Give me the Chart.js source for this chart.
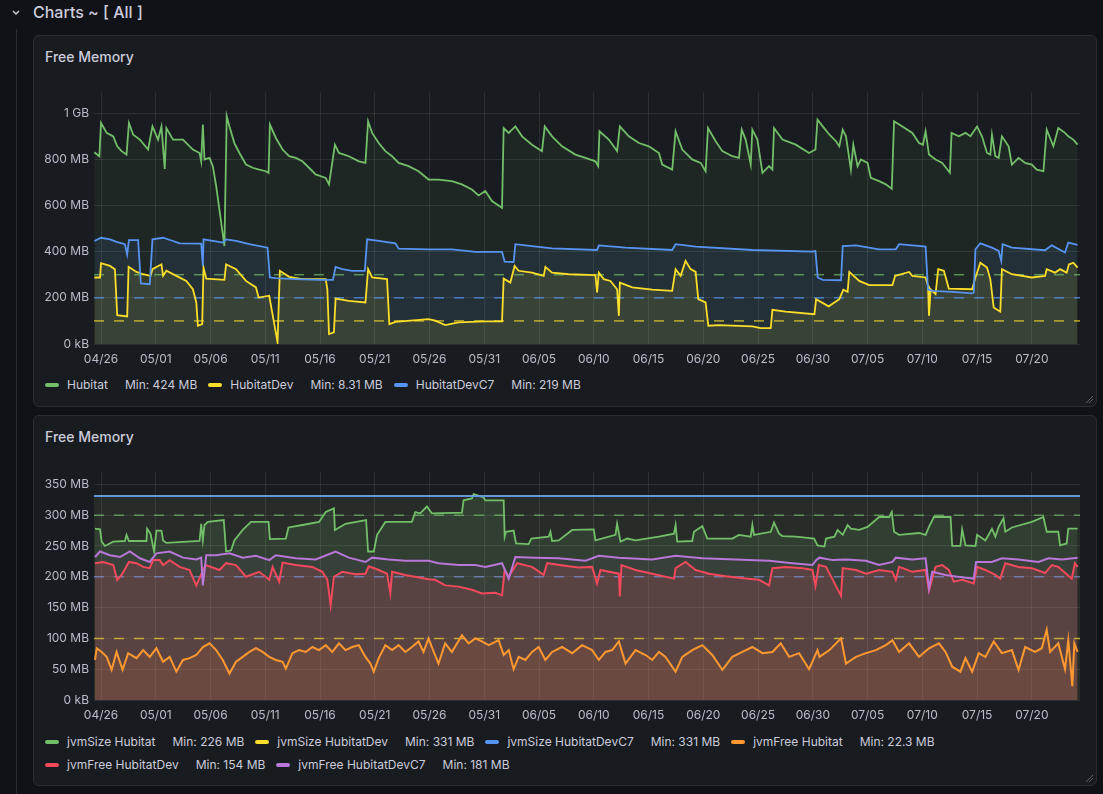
<!DOCTYPE html>
<html>
<head>
<meta charset="utf-8">
<title>Free Memory</title>
<script src="https://cdn.jsdelivr.net/npm/chart.js@4.4.1/dist/chart.umd.min.js"></script>
<style>
  body { margin: 0; width: 1103px; height: 794px; overflow: hidden; background: #111217; font-family: Inter, "Noto Sans", sans-serif; color: #ccccdc; position: relative; }
  .row-title { position: absolute; left: 33px; top: 1px; font-size: 16px; line-height: 22px; font-weight: 500; }
  .chev { position: absolute; left: 10px; top: 7px; }
  .rail { position: absolute; left: 16px; top: 29px; width: 1px; bottom: 0; background: #2a2c32; }
  .panel { position: absolute; left: 33px; width: 1064px; background: #181b1f; border: 1px solid #2b2d33; border-radius: 6px; box-sizing: border-box; }
  .panel h2 { position: absolute; left: 11px; margin: 0; font-size: 14px; line-height: 20px; font-weight: 500; color: #ccccdc; }
  .grip { position: absolute; right: 2px; bottom: 2px; }
  canvas { position: absolute; }
  .legend { position: absolute; width: 1040px; display: flex; flex-wrap: wrap; row-gap: 8px; font-size: 12px; line-height: 15px; }
  .item { display: flex; align-items: center; margin-right: 11px; white-space: nowrap; }
  .sw { width: 14px; height: 4px; border-radius: 2px; margin-right: 8px; }
  .min { margin-left: 17px; }
</style>
</head>
<body>
<svg class="chev" width="12" height="12"><polyline points="3,4 6,7 9,4" fill="none" stroke="#ccccdc" stroke-width="1.5"/></svg>
<div class="row-title">Charts ~ [ All ]</div>
<div class="rail"></div>

<div class="panel" style="top:35px;height:372px">
  <h2 style="top:11px">Free Memory</h2>
  <svg class="grip" width="10" height="10"><path d="M9,2 L2,9 M9,5 L5,9" stroke="#5a5d66" stroke-width="1"/></svg>
</div>
<div class="panel" style="top:415px;height:371px">
  <h2 style="top:11px">Free Memory</h2>
  <svg class="grip" width="10" height="10"><path d="M9,2 L2,9 M9,5 L5,9" stroke="#5a5d66" stroke-width="1"/></svg>
</div>

<canvas id="chart1" width="1045" height="280" style="left:40px;top:88px"></canvas>
<canvas id="chart2" width="1045" height="256" style="left:40px;top:468px"></canvas>
<div class="legend" id="legend1" style="left:45px;top:377px"></div>
<div class="legend" id="legend2" style="left:45px;top:734px"></div>

<script>
// x values are days after 04/26, y values are MB
const xMin = -0.64;
const xMax = 89.4;
const xTickDays = [0, 5, 10, 15, 20, 25, 30, 35, 40, 45, 50, 55, 60, 65, 70, 75, 80, 85];
const xTickLabels = ['04/26', '05/01', '05/06', '05/11', '05/16', '05/21', '05/26', '05/31', '06/05', '06/10', '06/15', '06/20', '06/25', '06/30', '07/05', '07/10', '07/15', '07/20'];

const yTicks1 = [0, 200, 400, 600, 800, 1000];
const yLabels1 = ['0 kB', '200 MB', '400 MB', '600 MB', '800 MB', '1 GB'];
const yTicks2 = [0, 50, 100, 150, 200, 250, 300, 350];
const yLabels2 = ['0 kB', '50 MB', '100 MB', '150 MB', '200 MB', '250 MB', '300 MB', '350 MB'];

const thresholds = [300, 200, 100];

// ---- panel 1: free memory ----
const hubitat = [[-0.61,830],[-0.15,813],[0,957],[0.52,914],[1.12,899],[1.48,856],[1.88,835],[2.33,820],[2.55,957],[2.94,906],[3.55,885],[4.3,842],[4.7,942],[5.21,885],[5.52,942],[5.82,758],[5.97,935],[6.58,885],[7.48,885],[8.39,842],[9.0,827],[9.15,791],[9.3,950],[9.45,799],[9.91,806],[10.21,770],[10.52,683],[11.27,424],[11.48,986],[11.73,942],[12.18,870],[12.64,827],[13.24,777],[13.85,763],[14.45,755],[15.06,748],[15.3,741],[15.42,950],[15.97,892],[16.58,842],[17.18,813],[17.79,806],[18.39,791],[19.0,763],[19.6,734],[20.52,719],[20.82,691],[21.36,863],[21.73,827],[22.64,813],[23.55,791],[24.15,784],[24.39,964],[24.76,914],[25.36,870],[25.97,835],[26.58,813],[27.18,784],[28.09,770],[29.0,748],[29.91,712],[30.82,712],[32.04,705],[32.96,691],[33.87,669],[34.48,643],[35.09,662],[35.7,619],[36.62,590],[36.77,935],[37.23,914],[37.84,942],[38.45,899],[39.36,863],[40.27,835],[40.52,942],[41.19,899],[42.1,856],[43.32,820],[44.24,806],[45.15,791],[45.4,770],[45.52,921],[46.37,885],[47.13,835],[47.38,942],[48.2,899],[49.12,870],[50.03,856],[50.95,827],[51.25,777],[52.16,755],[52.47,921],[53.08,842],[53.99,799],[54.76,784],[55.21,748],[55.43,935],[56.13,878],[56.74,835],[57.65,813],[58.26,806],[58.51,928],[58.87,885],[59.33,777],[59.48,928],[59.94,885],[60.4,741],[61.01,770],[61.31,755],[61.46,935],[62.23,885],[63.45,863],[64.66,827],[65.24,842],[65.43,971],[65.91,942],[66.52,906],[67.12,878],[67.42,856],[67.73,928],[68.03,899],[68.48,755],[68.7,863],[69.09,770],[69.39,799],[70.0,784],[70.3,719],[71.06,705],[71.67,691],[72.21,672],[72.42,964],[73.18,942],[74.09,914],[74.7,870],[75.06,863],[75.3,921],[75.61,820],[76.21,799],[76.82,784],[77.52,741],[77.67,914],[78.33,899],[78.94,914],[79.39,899],[80.0,942],[80.45,899],[80.91,827],[81.21,820],[81.36,906],[81.67,813],[81.97,806],[82.27,899],[82.88,856],[83.18,777],[83.79,806],[84.39,784],[85.0,777],[85.45,755],[86.06,748],[86.36,928],[86.97,856],[87.42,935],[88.03,914],[88.33,899],[88.79,885],[89.18,863]];

const hubitatDev = [[-0.61,288],[-0.09,288],[0,350],[0.82,338],[1.27,324],[1.48,125],[2.39,119],[2.52,334],[3.24,312],[3.85,302],[4.52,295],[4.7,324],[5.52,345],[5.67,295],[5.97,317],[6.88,295],[7.79,273],[8.39,237],[8.7,180],[8.85,79],[9.24,86],[9.36,331],[9.61,283],[11.27,278],[11.42,345],[12.33,324],[13.24,273],[14.15,245],[14.39,201],[15.36,209],[16.12,8.31],[16.33,317],[17.18,291],[18.39,281],[20.52,281],[20.67,237],[20.82,43],[21.27,50],[21.42,197],[22.64,187],[24.15,180],[24.39,324],[24.76,288],[26.12,281],[26.33,86],[26.88,96],[29.91,108],[30.52,101],[31.43,82],[32.65,94],[35.09,98],[36.62,98],[36.77,283],[37.38,266],[37.77,338],[38.14,317],[39.36,309],[40.43,295],[40.58,334],[41.19,309],[42.71,302],[45.15,298],[45.3,223],[45.46,309],[45.91,281],[46.52,273],[47.13,237],[47.29,122],[47.38,266],[48.51,245],[50.34,235],[52.16,230],[52.47,324],[52.93,295],[53.38,360],[53.84,324],[54.3,312],[54.54,194],[55.21,180],[55.46,79],[56.43,82],[59.48,76],[60.24,69],[61.16,69],[61.31,148],[62.53,140],[65.15,129],[65.3,194],[66.45,163],[67.42,194],[67.79,235],[68.18,226],[68.33,312],[69.24,273],[70.15,255],[72.27,255],[72.52,295],[73.79,312],[74.09,295],[75.3,288],[75.52,252],[75.61,122],[75.76,237],[76.21,216],[76.45,324],[76.97,317],[77.42,240],[79.55,237],[79.85,288],[80.3,352],[80.91,331],[81.21,281],[81.52,158],[82.12,140],[82.27,324],[83.18,302],[85.0,288],[86.21,295],[86.36,324],[87.12,309],[87.58,324],[88.18,309],[88.39,345],[88.79,352],[89.18,331]];

const hubitatDevC7 = [[-0.61,446],[0,460],[0.82,453],[1.42,442],[2.18,432],[2.39,388],[2.55,450],[3.39,450],[3.64,262],[4.45,259],[4.7,453],[5.67,460],[6.58,446],[7.18,436],[9.15,435],[9.3,338],[9.36,453],[10.21,446],[11.12,439],[11.42,453],[12.33,446],[13.55,432],[15.21,417],[15.42,288],[15.97,285],[17.79,281],[19.91,278],[21.18,278],[21.42,334],[22.03,324],[22.94,317],[24.09,317],[24.3,453],[25.36,446],[26.88,436],[27.18,413],[29.91,410],[32.04,410],[34.18,399],[36.62,399],[36.86,357],[37.68,355],[37.84,432],[38.75,427],[41.19,414],[45.3,407],[45.46,427],[47.9,417],[52.16,407],[52.47,432],[54.3,422],[59.48,407],[64.97,400],[65.24,403],[65.45,288],[65.91,278],[67.58,276],[67.73,424],[68.94,427],[71.06,410],[72.58,410],[72.88,432],[75.3,422],[75.52,237],[75.91,230],[77.73,226],[79.6,219],[79.7,223],[79.85,410],[80.3,436],[81.36,417],[81.97,403],[82.21,360],[82.33,432],[83.18,417],[86.21,406],[86.82,427],[88.03,396],[88.33,439],[89.18,429]];

const legendMins1 = ['424 MB', '8.31 MB', '219 MB'];

// ---- panel 2: jvm memory ----
const jvmSizeHubitat = [[-0.55,278],[-0.09,277],[0.06,257],[0.36,250],[1.12,257],[2.18,258],[2.33,268],[2.55,258],[4.15,258],[4.21,278],[4.52,270],[4.7,254],[4.85,241],[5.06,275],[5.52,275],[5.67,259],[5.97,255],[9.0,258],[9.15,286],[9.3,259],[9.45,284],[9.76,289],[11.21,292],[11.42,241],[11.88,243],[12.18,259],[12.94,276],[13.7,289],[15.3,289],[15.42,261],[16.88,262],[17.12,280],[18.39,284],[19.91,289],[20.52,305],[21.27,311],[21.36,276],[22.33,286],[24.21,292],[24.39,241],[24.91,241],[25.21,268],[25.97,289],[28.39,289],[28.7,305],[29.15,303],[29.76,314],[30.21,303],[32.96,304],[33.11,324],[33.87,327],[34.02,334],[34.94,329],[35.09,324],[36.77,324],[36.86,265],[36.98,273],[37.68,275],[37.9,254],[39.05,253],[39.3,262],[40.88,265],[41.04,273],[41.19,258],[41.8,259],[43.02,276],[45.0,277],[45.15,259],[46.98,268],[47.13,286],[47.44,257],[48.05,262],[48.81,259],[50.95,265],[52.32,270],[52.47,284],[52.62,257],[53.99,258],[54.15,273],[54.91,282],[55.37,262],[57.65,262],[58.26,268],[59.33,265],[59.48,284],[59.63,268],[61.16,273],[61.46,288],[61.92,270],[62.23,266],[63.45,265],[65.12,262],[65.43,251],[66.06,249],[66.21,262],[66.97,265],[67.27,276],[67.73,268],[68.18,284],[68.48,278],[69.24,276],[70.0,281],[71.06,297],[71.97,297],[72.21,305],[72.42,273],[72.88,268],[74.7,271],[75.3,268],[75.61,281],[76.06,297],[77.58,297],[77.73,250],[78.48,250],[78.64,277],[78.94,251],[79.85,250],[80.0,268],[80.76,259],[81.36,278],[81.67,265],[81.97,281],[82.42,295],[82.58,273],[83.18,280],[85.0,289],[86.06,297],[86.36,273],[87.42,273],[87.58,251],[88.18,254],[88.33,278],[89.18,278]];

const jvmSizeHubitatDev = [[-0.64,331],[89.4,331]];
const jvmSizeHubitatDevC7 = [[-0.64,331],[89.4,331]];

const jvmFreeHubitat = [[-0.55,65],[-0.39,84],[0.06,78],[0.52,70],[0.97,49],[1.42,78],[1.97,49],[2.48,76],[3.24,68],[3.85,81],[4.45,70],[5.06,84],[5.67,62],[6.27,70],[6.88,46],[7.48,65],[8.09,68],[8.7,73],[9.3,86],[9.91,92],[10.52,81],[11.12,65],[11.73,43],[12.33,62],[12.94,70],[13.55,78],[14.15,84],[14.76,78],[15.36,70],[15.97,65],[16.58,62],[16.88,51],[17.48,76],[18.09,81],[18.7,78],[19.3,86],[19.91,81],[20.52,89],[21.12,78],[21.73,92],[22.33,81],[22.94,86],[23.55,89],[24.15,70],[24.61,59],[24.91,46],[25.36,68],[25.97,89],[26.58,81],[27.18,89],[27.79,78],[28.39,86],[29.0,95],[29.45,78],[29.91,100],[30.21,86],[30.82,59],[31.43,92],[32.04,78],[32.96,105],[33.57,92],[34.18,100],[34.79,95],[35.4,89],[36.31,97],[36.77,73],[37.23,81],[37.68,50],[38.14,70],[38.75,65],[39.36,78],[39.97,86],[40.58,65],[41.19,78],[42.1,86],[43.02,76],[43.93,89],[44.85,81],[45.46,65],[46.07,78],[46.68,81],[47.29,95],[47.9,59],[48.81,81],[49.73,73],[50.34,65],[50.95,78],[51.55,70],[52.47,46],[53.08,70],[53.99,81],[54.91,89],[55.82,73],[56.74,49],[57.65,70],[58.57,78],[59.48,86],[60.4,76],[61.31,78],[62.07,92],[62.84,70],[63.75,76],[64.66,50],[65.43,81],[65.61,70],[66.52,81],[67.58,100],[68.03,59],[68.94,70],[69.85,76],[70.76,81],[71.67,89],[72.27,97],[72.88,78],[73.79,92],[74.7,70],[75.61,84],[76.52,92],[77.12,78],[77.73,54],[78.48,46],[78.94,68],[79.55,46],[80.15,76],[80.76,70],[81.52,95],[82.27,76],[83.18,81],[83.79,49],[84.39,86],[85.3,78],[85.91,84],[86.36,114],[86.67,78],[87.42,92],[88.03,50],[88.33,97],[88.7,22.3],[88.88,92],[89.18,78]];

const jvmFreeHubitatDev = [[-0.55,222],[0.21,224],[1.12,219],[1.48,195],[1.88,203],[2.55,224],[3.24,222],[3.85,216],[4.45,214],[4.76,227],[5.36,227],[5.67,219],[6.27,227],[7.18,216],[8.09,211],[8.7,186],[9.24,208],[9.55,219],[10.82,211],[11.42,222],[12.33,219],[13.24,200],[14.45,208],[15.36,195],[15.67,216],[16.27,192],[16.58,223],[17.79,219],[19.3,216],[20.21,208],[20.67,195],[20.97,154],[21.27,200],[22.03,208],[23.24,204],[24.15,205],[24.45,217],[25.36,211],[26.12,205],[26.42,173],[26.58,208],[27.79,203],[29.91,196],[30.52,195],[31.43,186],[32.65,184],[33.87,179],[34.79,173],[36.0,174],[36.62,170],[36.86,211],[37.23,200],[37.99,222],[39.36,216],[40.43,203],[40.73,222],[42.71,217],[43.63,215],[44.85,216],[45.3,189],[45.61,211],[47.29,205],[47.38,168],[47.53,219],[48.81,211],[50.34,205],[52.32,197],[52.47,214],[53.38,224],[54.3,211],[55.52,205],[57.04,201],[58.87,197],[60.09,195],[61.01,186],[61.31,214],[62.53,216],[64.05,214],[64.97,211],[65.24,185],[65.55,219],[66.21,216],[67.58,169],[67.73,214],[68.94,211],[69.85,205],[71.06,211],[72.27,208],[72.58,195],[72.88,216],[74.09,208],[75.3,211],[75.61,178],[76.21,216],[76.82,219],[77.42,211],[77.88,192],[78.64,195],[79.7,189],[80.0,216],[80.76,211],[81.67,203],[82.12,197],[82.58,222],[83.79,216],[85.0,214],[86.21,206],[86.82,219],[87.42,216],[88.64,197],[88.94,222],[89.18,216]];

const jvmFreeHubitatDevC7 = [[-0.55,232],[-0.09,241],[0.82,235],[1.73,232],[2.64,241],[3.55,230],[4.45,224],[5.06,238],[6.27,241],[7.48,231],[8.7,228],[9.15,231],[9.3,186],[9.61,235],[10.52,235],[11.73,238],[12.94,231],[14.15,234],[15.36,227],[15.97,235],[17.79,230],[19.6,228],[21.42,241],[22.64,231],[24.15,224],[24.76,231],[26.27,228],[27.79,226],[29.91,226],[30.82,222],[32.65,219],[34.18,219],[35.09,216],[36.62,222],[37.23,197],[37.84,232],[39.66,231],[41.8,230],[44.24,226],[45.46,234],[47.29,231],[50.34,228],[52.47,234],[54.91,230],[57.96,228],[61.01,226],[63.14,222],[64.97,219],[65.3,227],[65.61,231],[66.82,227],[68.03,228],[69.85,226],[71.06,219],[72.27,224],[72.58,231],[74.09,228],[75.3,230],[75.61,181],[75.91,208],[77.12,203],[78.64,199],[79.7,197],[79.91,224],[81.36,224],[82.27,230],[83.79,228],[85.61,224],[86.52,230],[87.73,228],[89.18,231]];

const legendMins2 = ['226 MB', '331 MB', '331 MB', '22.3 MB', '154 MB', '181 MB'];

var gridColor = 'rgba(240,250,255,0.09)';
var tickColor = 'rgba(204,204,220,0.9)';

function series(label, values, color, fillColor, width) {
  return {
    label: label,
    data: values.map(function (p) { return { x: p[0], y: p[1] }; }),
    borderColor: color,
    backgroundColor: fillColor,
    fill: 'origin',
    borderWidth: width || 1.5,
    pointRadius: 0,
    tension: 0
  };
}

function threshold(value, color) {
  return {
    label: 'threshold ' + value,
    data: [{ x: xMin, y: value }, { x: xMax, y: value }],
    borderColor: color,
    borderDash: [10, 10],
    borderWidth: 1.5,
    fill: false,
    pointRadius: 0,
    order: 20
  };
}

function makeChart(id, datasets, yTicks, yLabels, yMax) {
  // later series drawn on top, like grafana
  datasets.forEach(function (d, i) { if (d.order === undefined) d.order = -i; });
  return new Chart(document.getElementById(id), {
    type: 'line',
    data: { datasets: datasets },
    options: {
      responsive: false,
      animation: false,
      layout: { padding: { top: 4, right: 5, left: 0, bottom: 0 } },
      plugins: {
        legend: { display: false },
        tooltip: { enabled: false },
        filler: { drawTime: 'beforeDatasetsDraw' } // all fills under all lines
      },
      scales: {
        x: {
          type: 'linear',
          min: xMin,
          max: xMax,
          afterBuildTicks: function (s) { s.ticks = xTickDays.map(function (v) { return { value: v }; }); },
          afterFit: function (s) { s.height = 24; s.paddingLeft = 0; s.paddingRight = 0; },
          grid: { color: gridColor, drawTicks: false },
          border: { display: false },
          ticks: {
            color: tickColor,
            font: { family: 'Inter', size: 12 },
            padding: 8,
            maxRotation: 0,
            autoSkip: false,
            callback: function (v) { return xTickLabels[xTickDays.indexOf(v)]; }
          }
        },
        y: {
          min: 0,
          max: yMax,
          afterBuildTicks: function (s) { s.ticks = yTicks.map(function (v) { return { value: v }; }); },
          afterFit: function (s) { s.width = 54; s.paddingTop = 0; s.paddingBottom = 0; },
          grid: { color: gridColor, drawTicks: false },
          border: { display: false },
          ticks: {
            color: tickColor,
            font: { family: 'Inter', size: 12 },
            padding: 5,
            callback: function (v) { return yLabels[yTicks.indexOf(v)]; }
          }
        }
      }
    }
  });
}

function buildLegend(id, datasets, mins) {
  var el = document.getElementById(id);
  datasets.forEach(function (d, i) {
    var item = document.createElement('div');
    item.className = 'item';
    item.innerHTML = '<span class="sw" style="background:' + d.borderColor + '"></span>' +
      '<span>' + d.label + '</span><span class="min">Min: ' + mins[i] + '</span>';
    el.appendChild(item);
  });
}

var panel1 = [
  series('Hubitat', hubitat, '#73bf69', 'rgba(115,191,105,0.08)', 1.8),
  series('HubitatDev', hubitatDev, '#fade2a', 'rgba(250,222,42,0.11)', 1.8),
  series('HubitatDevC7', hubitatDevC7, '#5794f2', 'rgba(87,148,242,0.09)', 1.8)
];
var thr1 = [threshold(thresholds[0], 'rgba(115,191,105,0.7)'), threshold(thresholds[1], 'rgba(87,148,242,0.75)'), threshold(thresholds[2], 'rgba(250,222,42,0.7)')];
makeChart('chart1', panel1.concat(thr1), yTicks1, yLabels1, 1091);
buildLegend('legend1', panel1, legendMins1);

var panel2 = [
  series('jvmSize Hubitat', jvmSizeHubitat, '#73bf69', 'rgba(115,191,105,0.13)', 1.8),
  series('jvmSize HubitatDev', jvmSizeHubitatDev, '#fade2a', 'rgba(250,222,42,0.06)', 1.8),
  series('jvmSize HubitatDevC7', jvmSizeHubitatDevC7, '#5794f2', 'rgba(87,148,242,0.05)', 1.8),
  series('jvmFree Hubitat', jvmFreeHubitat, '#ff9830', 'rgba(255,152,48,0.11)', 2),
  series('jvmFree HubitatDev', jvmFreeHubitatDev, '#f2495c', 'rgba(242,73,92,0.18)', 2),
  series('jvmFree HubitatDevC7', jvmFreeHubitatDevC7, '#b877d9', 'rgba(184,119,217,0.05)', 2)
];
var thr2 = [threshold(thresholds[0], 'rgba(115,191,105,0.7)'), threshold(thresholds[1], 'rgba(120,140,200,0.75)'), threshold(thresholds[2], 'rgba(250,222,42,0.65)')];
makeChart('chart2', panel2.concat(thr2), yTicks2, yLabels2, 370);
buildLegend('legend2', panel2, legendMins2);
</script>
</body>
</html>
